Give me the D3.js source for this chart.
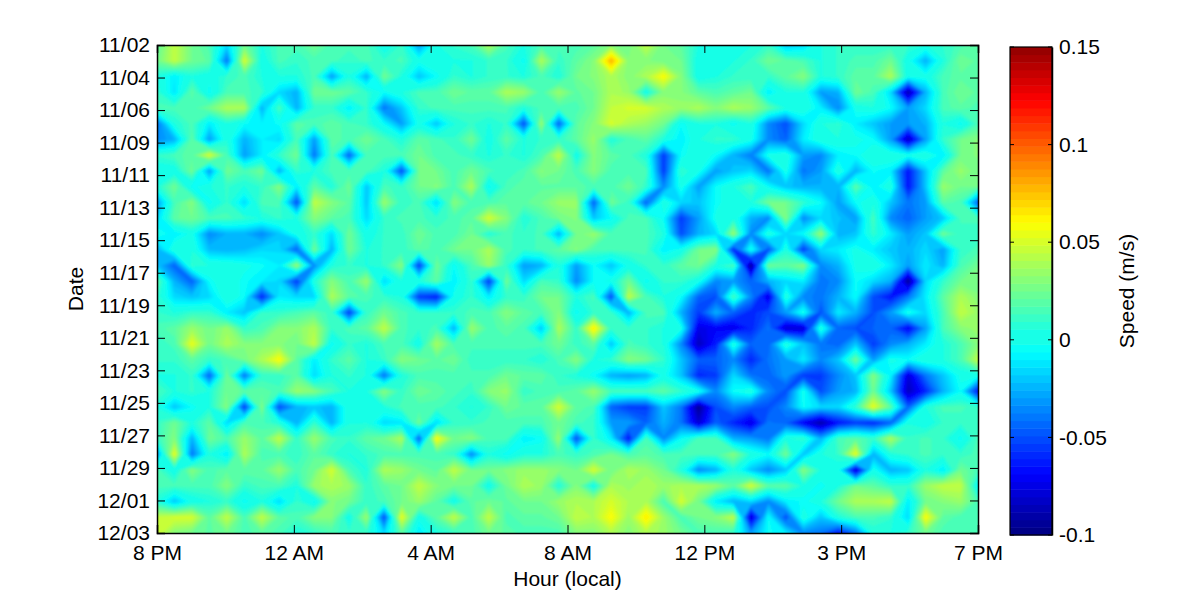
<!DOCTYPE html>
<html><head><meta charset="utf-8">
<script src="https://cdn.jsdelivr.net/npm/d3@7/dist/d3.min.js"></script>
<style>html,body{margin:0;background:#fff}text{font-family:"Liberation Sans",Arial,sans-serif;fill:#000}</style>
</head><body><svg id="c" width="1200" height="600"></svg>
<script>
const dateTicks=["11/02","11/04","11/06","11/09","11/11","11/13","11/15","11/17","11/19","11/21","11/23","11/25","11/27","11/29","12/01","12/03"];
const hourTicks=["8 PM","12 AM","4 AM","8 AM","12 PM","3 PM","7 PM"];
const speedTicks=[0.15,0.1,0.05,0,-0.05,-0.1];
const xLabel="Hour (local)",yLabel="Date",cLabel="Speed (m/s)";
// speed in mm/s: 32 daily rows x 48 half-hour columns
const speedRows=[
[20,45,25,15,-15,25,5,15,15,25,15,15,15,0,10,-30,5,10,15,40,15,5,15,15,15,20,30,25,45,25,20,5,0,5,5,10,-20,-15,5,10,10,10,10,10,5,10,15,20],
[25,45,25,20,-40,50,0,15,10,15,15,10,15,10,15,0,5,5,5,10,10,-5,40,10,20,30,80,30,30,25,25,0,0,5,10,25,20,15,5,10,15,15,25,0,-25,5,25,20],
[5,-10,5,0,10,15,5,5,5,15,-30,5,-25,25,5,-20,-5,10,5,10,10,5,15,5,25,30,40,30,40,60,30,0,5,10,10,10,20,30,5,10,20,20,40,0,0,15,20,20],
[10,-12,20,-5,15,15,10,-15,-25,25,25,20,10,-5,5,15,15,25,20,20,40,35,15,35,20,25,40,35,0,30,30,20,15,20,25,-10,5,5,-30,-25,25,15,-15,-90,-25,15,25,20],
[15,15,15,25,40,40,-25,15,-25,10,10,-10,10,-40,-20,10,15,15,15,15,15,5,15,15,15,25,45,50,50,40,35,40,30,40,35,20,5,5,-10,-35,0,5,-5,-30,-15,15,20,15],
[-40,5,15,-10,5,-5,-10,-5,20,15,20,15,10,-5,-30,0,-20,5,10,5,10,-50,35,-45,20,30,50,40,35,25,-5,5,5,-5,5,-35,-50,-15,5,10,-10,-20,-30,-30,-25,5,-5,15],
[-35,-25,20,-30,5,-25,-10,-15,15,-30,20,15,25,15,5,20,15,10,25,0,20,5,10,10,20,35,5,15,20,5,-10,5,10,10,0,-35,-45,-10,5,5,0,-5,-30,-85,-30,10,25,30],
[10,15,20,50,15,-30,-10,10,25,-40,15,-45,15,15,15,25,15,15,10,5,10,5,15,45,0,30,20,15,5,-55,-5,5,-5,-25,-38,0,5,-30,-35,-10,-5,5,5,0,5,-10,25,30],
[0,0,25,-30,25,15,25,-25,10,5,15,15,15,5,-50,25,25,15,25,15,10,15,30,25,15,30,15,15,15,-55,10,0,-30,-20,-15,-40,0,-40,-30,5,-25,-5,-10,-65,-20,20,35,25],
[5,25,-5,5,10,5,10,30,-10,20,5,25,-20,15,10,25,30,15,40,-5,15,20,20,20,20,15,15,25,10,-35,0,-30,-5,5,15,-5,-20,-25,-25,-25,20,-10,5,-65,-20,35,25,25],
[-30,15,30,-5,10,-15,15,15,-50,45,30,20,-20,35,10,15,-15,30,15,15,20,20,25,35,35,-45,25,10,-45,5,-15,-20,-5,5,5,25,25,10,-5,-30,-5,5,-20,-40,-30,20,15,-45],
[-15,20,25,15,15,10,5,10,5,30,20,15,-15,10,15,15,10,15,20,50,30,5,15,25,30,-20,-5,15,15,-5,-55,-30,0,5,-25,-35,30,-35,-15,-20,-30,15,-35,-45,-30,-20,15,15],
[0,-10,0,-35,-25,-25,-35,-20,0,10,-15,25,0,10,10,25,15,15,25,5,15,10,15,-25,25,35,15,15,15,5,-50,-25,-15,35,-35,5,-15,-5,35,-25,-20,10,-10,-30,-20,25,10,10],
[-25,5,5,-22,-25,-22,-15,-15,-45,25,-25,25,5,10,10,20,15,25,25,40,15,10,15,20,30,15,15,15,15,-10,0,25,30,-60,0,-50,5,-55,-15,-10,0,-10,-20,-25,-15,-30,10,15],
[-20,-45,10,5,5,0,-5,-10,35,-35,5,10,5,10,30,-55,25,-5,15,35,10,-30,-25,5,-30,-5,-20,0,10,10,20,25,5,15,-95,25,20,30,-35,-25,0,5,-10,-30,-10,-25,15,25],
[20,-25,-45,-5,5,-5,-10,-15,-55,5,30,15,35,-15,5,5,20,-10,10,-55,25,-15,15,10,-35,-5,0,25,-5,10,10,0,-35,-30,-45,-25,-15,-10,-40,-35,-5,-15,-25,-95,-15,10,25,25],
[10,-15,-20,-15,5,-5,-60,-10,-15,-15,40,20,15,10,5,-55,-62,0,10,-10,10,10,25,25,5,15,-50,45,15,5,-5,-45,-50,15,-35,-75,5,-35,-40,-25,-5,-50,-65,-40,-10,20,40,30],
[10,5,10,10,-10,-20,10,10,15,20,10,-55,10,25,15,10,10,10,15,15,30,20,15,30,-5,10,10,-25,15,15,-25,-55,-25,-45,-60,-50,-30,0,-50,-10,-25,-50,-30,0,-15,15,45,35],
[15,20,35,25,35,10,15,30,30,40,10,15,20,45,15,10,15,-25,35,15,20,15,-20,40,10,65,10,10,10,5,0,-75,-70,-75,-60,-40,-80,-80,5,-45,-50,-45,-45,-70,-30,15,30,35],
[10,15,55,25,40,30,30,30,25,45,-5,10,5,15,15,0,38,15,15,15,15,15,15,25,10,20,-20,15,10,5,-35,-85,-62,5,-45,-45,5,-20,-40,-45,-20,-55,-35,-25,-10,5,15,30],
[10,10,20,10,15,25,40,60,20,-10,10,20,5,10,30,25,20,25,10,10,10,10,5,15,30,5,10,30,25,10,-20,-45,-45,-35,-60,-40,-30,-10,-35,-20,25,-30,0,-5,5,5,15,45],
[5,5,10,-45,25,-40,10,10,20,-15,5,10,5,-40,5,15,15,15,15,15,25,20,20,10,5,-5,-25,-30,-25,0,-20,-60,-55,-15,-40,-45,-30,-55,-55,-35,-20,30,-8,-78,-40,-20,0,0],
[15,5,10,5,25,20,20,15,35,30,15,5,5,30,10,25,20,15,10,30,35,10,15,15,20,35,15,15,15,20,10,0,-35,-5,5,-35,-50,0,-50,-30,-25,25,-20,-85,-60,-25,-5,-65],
[5,-20,-5,5,30,-55,30,-50,-25,-20,-25,5,5,5,15,15,15,10,5,10,25,20,20,50,20,15,-45,-55,-55,-20,-40,-95,-50,-35,-45,-50,-35,-5,-15,-15,10,55,20,-45,5,15,15,10],
[10,25,5,20,-15,15,15,5,-25,10,-25,5,5,-15,-12,25,-15,10,10,15,15,15,15,25,15,10,-30,-30,-45,-25,-40,-80,-45,-60,-75,-40,-45,-70,-90,-65,-55,-60,-45,5,0,10,10,10],
[10,30,-25,25,15,35,20,45,10,35,15,10,20,25,40,-45,60,25,30,15,15,-10,-5,35,-50,10,-10,-65,15,-35,-5,15,15,-25,-30,-40,5,10,-25,15,20,10,40,10,15,10,-5,15],
[-30,55,-40,5,-10,40,15,15,10,20,10,5,10,15,15,15,15,10,-35,5,-5,5,5,15,10,15,25,15,20,15,15,15,15,30,5,-5,25,-20,5,10,55,-25,5,10,15,10,10,15],
[15,0,30,15,20,20,20,35,15,25,50,15,5,40,35,25,20,45,25,25,30,35,35,30,25,50,25,40,35,25,5,-35,-25,5,-20,-35,-20,30,5,0,-80,0,-25,-20,5,-10,25,15],
[15,15,15,15,30,10,15,15,5,35,40,35,10,20,25,45,30,25,25,0,25,40,35,5,30,0,40,35,40,35,40,40,35,20,50,20,20,5,-5,5,25,20,10,10,35,45,45,-5],
[5,-20,0,5,10,-5,5,-15,10,-5,30,25,10,15,25,35,20,0,20,25,20,25,25,35,40,40,50,40,40,15,50,25,-10,-25,-15,-35,-10,-5,5,25,40,40,45,-10,25,30,35,15],
[45,50,50,20,45,15,45,20,15,30,30,0,35,-50,55,0,20,45,15,45,15,20,20,25,45,40,60,35,65,35,15,25,30,45,-80,-5,-50,5,-20,5,15,15,10,-15,60,20,15,15],
[50,30,25,20,25,15,20,15,5,10,15,10,10,-15,20,-10,5,10,15,25,20,15,15,15,30,30,40,30,40,35,25,15,15,10,-30,-5,-10,-35,-40,-65,-40,5,5,10,25,15,15,15]
];
const nRows=speedRows.length,nCols=speedRows[0].length;
const plot={l:157,r:978,t:45,b:533},bar={l:1010,r:1052,t:47,b:535};
const cMin=-100,cMax=150,nColors=64,fs=21;
function jet(t){const c=v=>Math.round(255*Math.max(0,Math.min(1,v)));
  return d3.rgb(c(1.5-Math.abs(4*t-3)),c(1.5-Math.abs(4*t-2)),c(1.5-Math.abs(4*t-1))).formatHex();}
const colorAt=d3.scaleLinear().domain([cMin,cMax]).range([0,1]).clamp(true);
const levels=d3.range(nColors).map(i=>cMin+(cMax-cMin)*i/nColors);
const colorOf=v=>jet((Math.floor(colorAt(v)*nColors*0.9999)+0.5)/nColors);

const svg=d3.select("#c");
const defs=svg.append("defs");
defs.append("clipPath").attr("id","pc").append("rect")
  .attr("x",plot.l).attr("y",plot.t).attr("width",plot.r-plot.l).attr("height",plot.b-plot.t);
defs.append("filter").attr("id","soft").attr("x","-5%").attr("y","-5%").attr("width","110%").attr("height","110%")
  .append("feGaussianBlur").attr("stdDeviation",1);
const xG=d3.scaleLinear().domain([0,nCols-1]).range([plot.l,plot.r]);
const yG=d3.scaleLinear().domain([0,nRows-1]).range([plot.t,plot.b]);
const proj=d3.geoTransform({point(x,y){this.stream.point(xG(x-0.5),yG(y-0.5));}});
const path=d3.geoPath(proj);
const flat=speedRows.flat();
const cs=d3.contours().size([nCols,nRows]).thresholds(levels)(flat);
svg.append("g").attr("clip-path","url(#pc)").append("g").attr("filter","url(#soft)")
  .selectAll("path").data(cs).join("path").attr("d",path).attr("fill",d=>colorOf(d.value+0.01));

function style(g){g.selectAll("path.domain").attr("stroke","#000").attr("stroke-width",1.5);
  g.selectAll("line").attr("stroke","#000").attr("stroke-width",1);
  g.selectAll("text").attr("font-size",fs).attr("font-family",'"Liberation Sans"').attr("fill","#000");}
const xA=d3.scalePoint().domain(hourTicks).range([plot.l,plot.r]);
const yA=d3.scalePoint().domain(dateTicks).range([plot.t,plot.b]);
const tl=8;
svg.append("g").attr("transform",`translate(0,${plot.b})`).call(d3.axisBottom(xA).tickSize(-tl).tickPadding(12)).call(style);
svg.append("g").attr("transform",`translate(0,${plot.t})`).call(d3.axisTop(xA).tickSize(-tl).tickFormat("")).call(style);
svg.append("g").attr("transform",`translate(${plot.l},0)`).call(d3.axisLeft(yA).tickSize(-tl).tickPadding(7)).call(style);
svg.append("g").attr("transform",`translate(${plot.r},0)`).call(d3.axisRight(yA).tickSize(-tl).tickFormat("")).call(style);

const cY=d3.scaleLinear().domain([cMin,cMax]).range([bar.b,bar.t]);
svg.append("g").selectAll("rect").data(levels).join("rect")
  .attr("x",bar.l).attr("width",bar.r-bar.l)
  .attr("y",d=>cY(d+(cMax-cMin)/nColors)).attr("height",d=>cY(d)-cY(d+(cMax-cMin)/nColors)+0.5)
  .attr("fill",d=>colorOf(d+0.01));
const cS=d3.scaleLinear().domain([cMin/1000,cMax/1000]).range([bar.b,bar.t]);
svg.append("g").attr("transform",`translate(${bar.r},0)`)
  .call(d3.axisRight(cS).tickValues(speedTicks).tickSize(0).tickPadding(7).tickFormat(d=>String(d))).call(style);
const tg=svg.append("g");
tg.selectAll("line.a").data(speedTicks).join("line").attr("class","a").attr("x1",bar.l).attr("x2",bar.l+4).attr("y1",cS).attr("y2",cS).attr("stroke","#000");
tg.selectAll("line.b").data(speedTicks).join("line").attr("class","b").attr("x1",bar.r-4).attr("x2",bar.r).attr("y1",cS).attr("y2",cS).attr("stroke","#000");
svg.append("rect").attr("x",bar.l).attr("y",bar.t).attr("width",bar.r-bar.l).attr("height",bar.b-bar.t).attr("fill","none").attr("stroke","#000").attr("stroke-width",1.2);

svg.append("text").attr("x",(plot.l+plot.r)/2).attr("y",586).attr("text-anchor","middle").attr("font-size",fs).text(xLabel);
svg.append("text").attr("transform",`translate(83,${(plot.t+plot.b)/2}) rotate(-90)`).attr("text-anchor","middle").attr("font-size",fs).text(yLabel);
svg.append("text").attr("transform",`translate(1134,${(bar.t+bar.b)/2}) rotate(-90)`).attr("text-anchor","middle").attr("font-size",fs).text(cLabel);
</script></body></html>
